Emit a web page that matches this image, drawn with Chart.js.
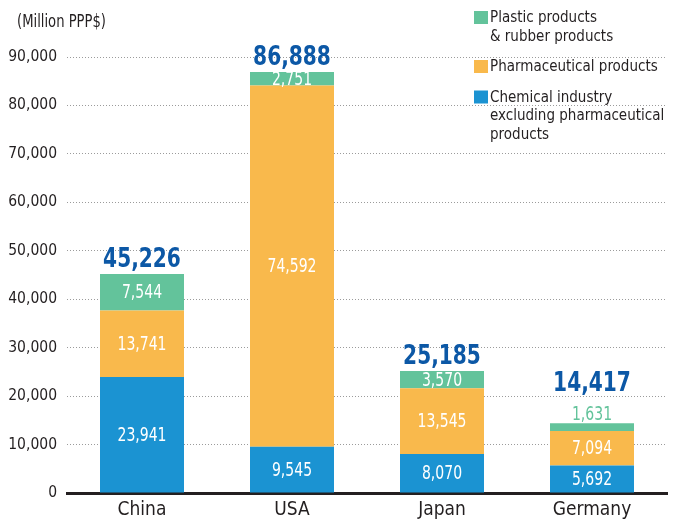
<!DOCTYPE html>
<html>
<head>
<meta charset="utf-8">
<script src="https://cdn.jsdelivr.net/npm/chart.js@4/dist/chart.umd.min.js"></script>
<style>
  html, body { margin: 0; padding: 0; background: #fff; }
  #wrap { width: 681px; height: 520px; position: relative; }
</style>
</head>
<body>
<div id="wrap"><canvas id="chart"></canvas></div>
<script>
// data
const countries = ["China", "USA", "Japan", "Germany"];
const chemical = [23941, 9545, 8070, 5692];
const pharmaceutical = [13741, 74592, 13545, 7094];
const plastic = [7544, 2751, 3570, 1631];
const seriesLines = [
    ["Chemical industry", "excluding pharmaceutical", "products"],
    ["Pharmaceutical products"],
    ["Plastic products", "& rubber products"],
];
const unitLabel = "(Million PPP$)";
const yTicks = [0, 10000, 20000, 30000, 40000, 50000, 60000, 70000, 80000, 90000];

const colors = ["#1b93d2", "#f9b94c", "#63c39b"];
const totalColor = "#0c58a6";
const textColor = "#231f20";
const FONT = "'DejaVu Sans Condensed', 'Roboto', sans-serif";

const fmt = v => v.toLocaleString("en-US");

// text squeezed horizontally, the original uses a narrow typeface
function narrowText(ctx, text, x, y, sx) {
    ctx.save();
    ctx.translate(x, y);
    ctx.scale(sx, 1);
    ctx.fillText(text, 0, 0);
    ctx.restore();
}

// value labels inside / above each segment, plus the total on top
const labelPlugin = {
    id: "labels",
    afterDatasetsDraw(chart) {
        const ctx = chart.ctx;
        const raised = countries.map(() => 0);
        ctx.save();
        ctx.textAlign = "center";
        chart.data.datasets.forEach((ds, i) => {
            const meta = chart.getDatasetMeta(i);
            meta.data.forEach((bar, j) => {
                const { x, y, base } = bar.getProps(["x", "y", "base"], true);
                const h = base - y;
                ctx.font = "19.5px " + FONT;
                if (h >= 10) {
                    ctx.fillStyle = "#ffffff";
                    ctx.textBaseline = "middle";
                    narrowText(ctx, fmt(ds.data[j]), x, (y + base) / 2 + 1, 0.8);
                } else {
                    ctx.fillStyle = ds.backgroundColor;
                    ctx.textBaseline = "alphabetic";
                    narrowText(ctx, fmt(ds.data[j]), x, y - 3, 0.8);
                    raised[j] = 25;
                }
            });
        });
        const topMeta = chart.getDatasetMeta(chart.data.datasets.length - 1);
        topMeta.data.forEach((bar, j) => {
            const total = chemical[j] + pharmaceutical[j] + plastic[j];
            ctx.font = "bold 27px " + FONT;
            ctx.fillStyle = totalColor;
            ctx.textBaseline = "alphabetic";
            narrowText(ctx, fmt(total), bar.x, bar.y - 7 - raised[j], 0.83);
        });
        ctx.restore();
    },
    afterDraw(chart) {
        const ctx = chart.ctx;
        ctx.save();
        ctx.fillStyle = textColor;
        ctx.textBaseline = "middle";
        ctx.textAlign = "left";
        ctx.font = "17px " + FONT;
        narrowText(ctx, unitLabel, 17, 23, 0.86);

        // legend, top series first
        ctx.font = "16.5px " + FONT;
        let ly = 18;
        for (let i = seriesLines.length - 1; i >= 0; i--) {
            ctx.fillStyle = colors[i];
            ctx.fillRect(474, ly - 7, 14, 13);
            ctx.fillStyle = textColor;
            seriesLines[i].forEach((line, k) => {
                narrowText(ctx, line, 490, ly + k * 18.5, 0.91);
            });
            ly += (seriesLines[i].length - 1) * 18.5 + 30.5;
        }
        ctx.restore();
    }
};

new Chart(document.getElementById("chart"), {
    type: "bar",
    data: {
        labels: countries,
        datasets: [
            { label: seriesLines[0].join(" "), data: chemical, backgroundColor: colors[0] },
            { label: seriesLines[1].join(" "), data: pharmaceutical, backgroundColor: colors[1] },
            { label: seriesLines[2].join(" "), data: plastic, backgroundColor: colors[2] },
        ]
    },
    options: {
        responsive: true,
        maintainAspectRatio: false,
        animation: false,
        layout: { padding: { top: 57, right: 14, left: 0, bottom: 0 } },
        plugins: { legend: { display: false }, tooltip: { enabled: false } },
        datasets: { bar: { barPercentage: 0.56, categoryPercentage: 1, borderWidth: 0 } },
        scales: {
            x: {
                stacked: true,
                grid: { display: false, drawTicks: false },
                border: { display: true, color: textColor, width: 3 },
                ticks: { color: textColor, font: { family: FONT, size: 19 }, padding: 6 },
                afterFit(scale) { scale.height = 27; }
            },
            y: {
                stacked: true,
                min: 0,
                max: 90000,
                afterBuildTicks(scale) { scale.ticks = yTicks.map(v => ({ value: v })); },
                grid: {
                    drawTicks: false,
                    color: c => (c.tick && c.tick.value === 0) ? "rgba(0,0,0,0)" : "#9b9b9b",
                    lineWidth: 1
                },
                border: { display: false, dash: [1, 2] },
                ticks: { color: textColor, font: { family: FONT, size: 15.5 }, padding: 10, callback: v => fmt(v) },
                afterFit(scale) { scale.width = 67; }
            }
        }
    },
    plugins: [labelPlugin]
});
</script>
</body>
</html>
